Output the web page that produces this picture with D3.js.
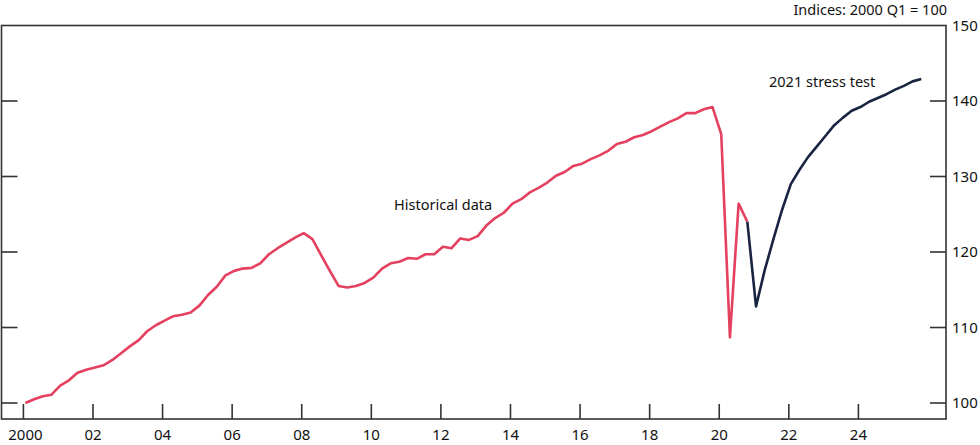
<!DOCTYPE html>
<html>
<head>
<meta charset="utf-8">
<script src="https://cdn.jsdelivr.net/npm/d3@7"></script>
<style>
  body { margin: 0; background: #fff; }
  svg text { font-family: "Noto Sans", "Open Sans", sans-serif; fill: #111; }
</style>
</head>
<body>
<svg id="chart" width="980" height="445"></svg>
<script>
// quarterly index values, 2000 Q1 = 100
const startYear = 2000;

const historical = [
  100.0, 100.5, 100.9, 101.1,   // 2000
  102.3, 103.0, 104.0, 104.4,   // 2001
  104.7, 105.0, 105.7, 106.6,   // 2002
  107.5, 108.3, 109.5, 110.3,   // 2003
  110.9, 111.5, 111.7, 112.0,   // 2004
  112.9, 114.3, 115.4, 116.9,   // 2005
  117.5, 117.8, 117.9, 118.5,   // 2006
  119.7, 120.5, 121.2, 121.9,   // 2007
  122.5, 121.7, 119.6, 117.5,   // 2008
  115.5, 115.3, 115.5, 115.9,   // 2009
  116.6, 117.8, 118.5, 118.7,   // 2010
  119.2, 119.1, 119.7, 119.7,   // 2011
  120.7, 120.5, 121.8, 121.6,   // 2012
  122.1, 123.5, 124.5, 125.2,   // 2013
  126.4, 127.0, 127.9, 128.5,   // 2014
  129.2, 130.1, 130.6, 131.4,   // 2015
  131.7, 132.3, 132.8, 133.4,   // 2016
  134.3, 134.6, 135.2, 135.5,   // 2017
  136.0, 136.6, 137.2, 137.7,   // 2018
  138.4, 138.4, 138.9, 139.2,   // 2019
  135.6, 108.7, 126.4, 124.0    // 2020
];

// stress test path starts from 2020 Q4
const stressStart = 83;
const stress = [
  124.0,                        // 2020 Q4
  112.8, 117.6, 121.7, 125.6,   // 2021
  129.0, 130.9, 132.6, 134.0,   // 2022
  135.4, 136.8, 137.8, 138.7,   // 2023
  139.2, 139.9, 140.4, 140.9,   // 2024
  141.5, 142.0, 142.6, 142.9    // 2025
];

const yTicks = [100, 110, 120, 130, 140, 150];
const xTickYears = d3.range(2000, 2025, 2);
const xTickLabels = xTickYears.map(y => y === 2000 ? "2000" : String(y).slice(2));

const svg = d3.select("#chart");

const frame = { left: 1.5, right: 946, top: 25.5, bottom: 419 };
const tickShift = -2; // year ticks sit slightly left of the Q1 points

const x = d3.scaleLinear()
  .domain([2000, 2024])
  .range([25.4, 860.4]);

const y = d3.scaleLinear()
  .domain([100, 150])
  .range([403, 25.5]);

const qx = i => startYear + i / 4;

// frame
svg.append("rect")
  .attr("x", frame.left).attr("y", frame.top)
  .attr("width", frame.right - frame.left).attr("height", frame.bottom - frame.top)
  .attr("fill", "none")
  .attr("stroke", "#333")
  .attr("stroke-width", 1.6);

// x ticks (inward from bottom)
svg.append("g")
  .selectAll("line")
  .data(xTickYears)
  .join("line")
  .attr("x1", d => x(d) + tickShift).attr("x2", d => x(d) + tickShift)
  .attr("y1", frame.bottom).attr("y2", frame.bottom - 15)
  .attr("stroke", "#333")
  .attr("stroke-width", 1.6);

svg.append("g")
  .selectAll("text")
  .data(xTickYears)
  .join("text")
  .attr("x", (d, i) => x(d) + tickShift + (i === 0 ? 2 : 0))
  .attr("y", 440)
  .attr("text-anchor", "middle")
  .attr("font-size", 15)
  .text((d, i) => xTickLabels[i]);

// y ticks on both sides (inward), labels on the right
const yt = yTicks.filter(d => d < 150);
svg.append("g")
  .selectAll("line")
  .data(yt)
  .join("line")
  .attr("x1", frame.left).attr("x2", frame.left + 16)
  .attr("y1", d => y(d)).attr("y2", d => y(d))
  .attr("stroke", "#333")
  .attr("stroke-width", 1.6);

svg.append("g")
  .selectAll("line")
  .data(yt)
  .join("line")
  .attr("x1", frame.right - 16).attr("x2", frame.right)
  .attr("y1", d => y(d)).attr("y2", d => y(d))
  .attr("stroke", "#333")
  .attr("stroke-width", 1.6);

svg.append("g")
  .selectAll("text")
  .data(yTicks)
  .join("text")
  .attr("x", 952)
  .attr("y", d => y(d))
  .attr("dy", "0.36em")
  .attr("font-size", 15)
  .text(d => d);

// lines
const line = d3.line()
  .x(d => x(d.t))
  .y(d => y(d.v));

svg.append("path")
  .datum(historical.map((v, i) => ({ t: qx(i), v })))
  .attr("d", line)
  .attr("fill", "none")
  .attr("stroke", "#e4405f")
  .attr("stroke-width", 2.6)
  .attr("stroke-linejoin", "round");

svg.append("path")
  .datum(stress.map((v, i) => ({ t: qx(stressStart + i), v })))
  .attr("d", line)
  .attr("fill", "none")
  .attr("stroke", "#182442")
  .attr("stroke-width", 2.6)
  .attr("stroke-linejoin", "round");

// annotations
svg.append("text")
  .attr("x", 394).attr("y", 210)
  .attr("font-size", 14.5)
  .text("Historical data");

svg.append("text")
  .attr("x", 769).attr("y", 87)
  .attr("font-size", 14.5)
  .text("2021 stress test");

svg.append("text")
  .attr("x", 947).attr("y", 15)
  .attr("text-anchor", "end")
  .attr("font-size", 14.5)
  .text("Indices: 2000 Q1 = 100");
</script>
</body>
</html>
